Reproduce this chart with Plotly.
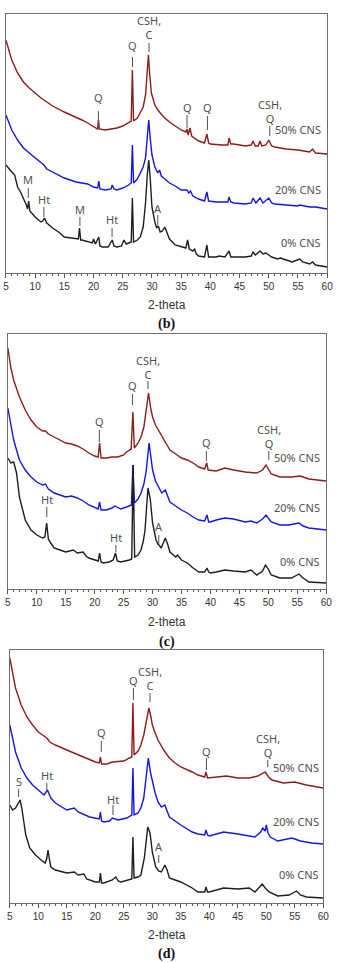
import plotly.graph_objects as go

# ---------------- DATA (2-theta, intensity in arbitrary units, as displayed) ----------------
# Panel (b)
b50_tt = [5,5.5,6,7,8,9,10,11,12,13,15,17,18,19,20,20.7,20.85,21,22,23,24,25,26,26.45,26.65,26.85,27.5,28,28.5,28.9,29.2,29.4,29.6,29.9,30.5,31,32,33,34,35,35.8,36,36.2,36.5,36.8,37.5,38,39,39.4,39.7,40,42,43,43.2,43.5,44,46,47,47.3,47.7,48.2,48.5,48.8,49.5,50,50.5,51,53,55,57,57.5,58,60]
b50_i = [233,222,213,200,191,185,180,175,171,167,161,156,153,150,146,144,153,144,143,144,145,147,150,152,203,152,155,160,166,178,200,218,200,180,168,163,156,151,147,143,141,144,138,145,137,134,132,130,139,130,129,128,128,135,129,129,127,128,132,127,127,132,127,128,133,127,126,124,123,121,124,120,119]

b20_tt = [5,5.5,6,7,8,9,10,11,11.5,12,13,15,17,19,20,20.7,20.9,21.1,22,23,23.2,23.5,24,25,26,26.45,26.65,26.85,27.5,28,28.5,28.9,29.2,29.45,29.7,30,30.5,31,31.3,31.6,32,33,34,35,36,36.3,36.6,37,38,39,39.4,39.7,41,43,43.2,43.5,44,46,47,47.3,47.8,48.5,49,50,50.5,51,53,55,55.3,57,58,60]
b20_i = [158,150,143,133,125,120,115,110,108,104,101,95,91,89,86,85,92,84,83,84,88,84,83,85,88,90,128,90,94,100,106,115,135,153,135,118,106,100,103,97,95,90,87,83,83,80,82,77,74,72,81,72,71,71,76,71,70,69,70,75,70,75,70,75,70,69,68,67,68,66,66,64]

b0_tt = [5,5.5,6,6.5,6.8,7,7.5,8,8.5,8.7,8.9,9.1,9.5,10,11,11.3,11.6,11.9,12,13,14,15,16,17,17.4,17.6,17.8,18,19,19.8,20,20.3,20.9,21.1,21.5,22.5,23.2,23.5,24,24.8,25.2,25.6,26,26.45,26.65,26.85,27.5,28,28.5,28.9,29.2,29.45,29.7,30,30.5,30.8,31.1,31.4,31.8,32.2,32.6,33,34,35,35.8,36.1,36.4,37,37.3,37.6,38,39,39.4,39.7,40,41,41.5,42.5,43.2,43.5,44,46,47,47.3,47.7,48.5,49,49.5,50,50.5,51.5,52,53,54,55.3,55.8,57,57.5,58,60]
b0_i = [108,104,101,98,92,86,81,75,68,64,72,62,59,56,51,52,55,51,50,45,41,36,35,34,34,45,33,33,31,30,34,29,36,27,26,26,33,27,26,27,33,29,30,31,75,31,33,36,46,70,98,113,95,66,51,45,47,41,42,46,40,34,28,26,25,33,24,22,24,19,17,16,28,16,16,16,17,16,22,16,16,16,17,21,18,22,19,20,18,16,14,15,13,11,14,11,9,11,8,6]

# Panel (c)
c50_tt = [5,5.5,6,7,8,9,10,11,11.5,12,13,15,16,17,18,19,20,20.6,20.85,21.1,22,23,24,25,25.5,26.3,26.6,26.85,27.5,28,28.5,28.9,29.3,29.7,30,30.5,31,32,33,34,35,36,37,38,39,39.35,39.6,41,42.5,44,46,48,49,49.6,50.2,50.5,52,54,55.5,57,60]
c50_i = [241,222,209,192,179,169,162,158,158,155,152,146,145,143,140,136,133,132,146,131,131,132,132,134,137,140,177,141,146,152,162,178,196,180,172,164,159,149,139,135,131,129,126,122,120,126,119,118,121,119,117,116,119,124,118,115,112,112,113,110,108]

c20_tt = [5,5.5,6,7,8,9,10,11,11.5,12,13,15,16,17,18,19,20,20.6,20.85,21.1,22,23,23.5,24.5,25.5,26.35,26.6,26.85,27.5,28,28.5,28.9,29.4,29.8,30,30.5,31,31.6,32.2,32.6,33,34,35,36,37,38,39,39.4,39.7,40,41,42.5,44,46,47,48,49,49.6,50.2,50.5,52,53.5,55.3,56,57,60]
c20_i = [181,163,149,129,119,112,107,104,105,100,96,92,93,91,88,84,81,80,87,79,79,81,83,80,82,84,124,86,90,96,105,118,146,128,119,108,102,96,99,93,87,83,79,76,72,69,68,74,67,67,69,71,70,67,68,66,70,74,70,67,64,64,66,63,61,59]

c0_tt = [5,5.5,6,6.5,7,7.5,8,9,10,11,11.4,11.7,12,12.4,13,14,15,16.3,17,18,18.5,19,20,20.6,20.85,21.1,21.5,22.5,23.2,23.6,23.9,24.5,26,26.4,26.65,26.9,27.5,28,28.4,28.7,29.2,29.6,30,30.6,30.9,31.1,31.5,32.2,32.6,33,34,34.3,35,36,37,38,39,39.4,39.7,40,41,42.5,44,46,47,48,49,49.5,50,50.5,52,54,55.3,56,57,60]
c0_i = [131,126,127,116,92,79,69,59,54,51,52,66,50,46,41,39,37,39,36,37,33,31,29,28,36,27,26,27,29,36,28,27,29,30,124,32,34,39,48,59,101,90,66,49,45,44,41,51,45,37,32,34,29,26,21,17,17,21,17,16,17,19,18,17,19,14,18,24,20,14,11,11,15,11,7,6]

# Panel (d)
d50_tt = [5,5.5,6,7,8,9,10,11,11.5,12,13,15,17,19,20,20.7,20.9,21.1,22,23,25,26,26.4,26.6,26.8,27.5,28,28.5,28.8,29.4,29.8,30,30.5,31,32,33,34,35,37,38,39.2,39.4,39.7,41,43,45,47,48.5,49.8,50.4,51,53,55,57,60]
d50_i = [245,229,215,198,186,178,171,167,165,161,158,153,148,143,141,140,146,139,139,141,142,145,146,200,148,152,158,168,178,195,185,178,170,163,153,145,140,136,131,128,126,131,125,126,127,125,125,127,131,126,123,120,121,118,115]

d20_tt = [5,5.5,6,7,8,9,10,11,11.6,12.2,13,15,16.3,17,19,20,20.7,20.9,21.1,21.5,22.5,23,24,25.5,26.4,26.6,26.8,27.5,28,28.5,28.8,29.3,29.7,30,30.5,31,31.6,32.2,32.6,33,35,37,38,39.2,39.4,39.7,40,42.5,45,47,48,49,49.4,49.8,50,50.3,50.7,52,54.5,56,58,60]
d20_i = [178,163,151,135,125,118,113,108,113,105,100,93,95,91,86,85,84,91,82,81,82,85,83,85,88,135,88,90,95,105,118,145,130,121,110,101,96,98,92,86,78,71,69,68,73,68,67,71,69,67,66,71,75,72,78,70,66,62,65,62,60,59]

d0_tt = [5,5.5,6,6.5,6.8,7.1,7.3,7.8,8.5,9.5,10.5,11.2,11.5,11.7,12,12.2,13,15,16.3,17,18,18.5,20,20.7,20.9,21.1,21.5,23,23.6,24,24.5,26,26.4,26.6,26.8,27.5,28,28.6,29.2,29.6,30,30.6,31.1,31.6,32.2,32.6,33,34,35,37,38,39.2,39.4,39.7,40,42.5,45,47,48,49.3,49.8,50.5,52,54,55.3,56,57,60]
d0_i = [98,93,95,100,103,95,88,68,55,48,43,40,45,53,42,36,33,30,31,28,29,24,21,21,30,20,20,23,26,22,21,23,24,66,25,26,28,45,76,70,51,36,32,31,38,33,25,23,21,15,11,11,16,11,11,15,14,15,11,19,15,11,7,8,12,8,6,5]

series_labels = ["50% CNS", "20% CNS", "0% CNS"]
series_colors = ["#8e1b1b", "#1414e6", "#1e1e1e"]
tick_vals = [5, 10, 15, 20, 25, 30, 35, 40, 45, 50, 55, 60]
panel_names = ["(b)", "(c)", "(d)"]
x_title = "2-theta"

# Phase labels: (text, 2-theta, label y, tick top, tick bottom)
b_labels = [("CSH,<br>C", 29.5, 246, 230, 221), ("Q", 26.67, 228, 216, 206), ("Q", 20.83, 176, 162, 146),
            ("Q", 36.0, 166, 158, 145), ("Q", 39.5, 166, 157, 143), ("CSH,<br>Q", 50.17, 162, 147, 137),
            ("M", 8.83, 94, 85, 75), ("Ht", 11.5, 74, 66, 56), ("M", 17.67, 64, 56, 47),
            ("Ht", 23.17, 54, 45, 36), ("A", 31.0, 65, 58, 48)]
c_labels = [("CSH,<br>C", 29.2, 222, 208, 200), ("Q", 26.53, 204, 195, 184), ("Q", 20.8, 168, 159, 147),
            ("Q", 39.3, 147, 138, 128), ("CSH,<br>Q", 50.08, 153, 138, 129),
            ("Ht", 11.73, 90, 82, 72), ("Ht", 23.67, 52, 44, 37), ("A", 31.07, 63, 54, 45)]
d_labels = [("Q", 26.69, 223, 215, 203), ("CSH,<br>C", 29.6, 225, 210, 201), ("Q", 21.05, 171, 162, 151),
            ("Q", 39.5, 152, 145, 133), ("CSH,<br>Q", 50.26, 158, 143, 136),
            ("S", 6.54, 122, 114, 106), ("Ht", 11.49, 128, 120, 111), ("Ht", 23.1, 104, 98, 88),
            ("A", 31.13, 57, 48, 40)]
series_label_y = [[144, 84, 31], [132, 82, 28], [136, 82, 29]]

# ---------------- LAYOUT GEOMETRY (pixels) ----------------
W, H = 340, 963
panels = [
    dict(left=3, right=333, top=14, bottom=273, title_y=305, name_y=324,
         data=[(b50_tt, b50_i), (b20_tt, b20_i), (b0_tt, b0_i)], labels=b_labels, lab_x=59.3),
    dict(left=5, right=332, top=334, bottom=589, title_y=622, name_y=642,
         data=[(c50_tt, c50_i), (c20_tt, c20_i), (c0_tt, c0_i)], labels=c_labels, lab_x=59.3),
    dict(left=7, right=329, top=650, bottom=903, title_y=935, name_y=954,
         data=[(d50_tt, d50_i), (d20_tt, d20_i), (d0_tt, d0_i)], labels=d_labels, lab_x=59.6),
]

fig = go.Figure()
annotations = []
shapes = []
label_font = dict(family="Noto Sans", size=11, color="#505050")

for k, p in enumerate(panels):
    sfx = "" if k == 0 else str(k + 1)
    xa, ya = "x" + sfx, "y" + sfx
    for (tt, inten), col in zip(p["data"], series_colors):
        fig.add_trace(go.Scatter(x=tt, y=inten, mode="lines", xaxis=xa, yaxis=ya,
                                 line=dict(color=col, width=1.4), showlegend=False,
                                 hoverinfo="skip"))
    h = p["bottom"] - p["top"]
    fig.layout["xaxis" + sfx] = dict(
        domain=[p["left"] / W, p["right"] / W], anchor=ya, range=[5, 60],
        tickvals=tick_vals, ticks="outside", ticklen=4, tickwidth=1, tickcolor="#555",
        minor=dict(dtick=1, ticks="outside", ticklen=2, tickcolor="#555", tickwidth=1),
        showline=True, linecolor="#6e6e6e", linewidth=1, mirror=True,
        showgrid=False, zeroline=False,
        tickfont=dict(family="Liberation Sans", size=10, color="#333"))
    fig.layout["yaxis" + sfx] = dict(
        domain=[(H - p["bottom"]) / H, (H - p["top"]) / H], anchor=xa, range=[0, h],
        showticklabels=False, ticks="", showline=True, linecolor="#6e6e6e", linewidth=1,
        mirror=True, showgrid=False, zeroline=False)
    for (txt, xx, yy, t0, t1) in p["labels"]:
        annotations.append(dict(text=txt, x=xx, y=yy, xref=xa, yref=ya, showarrow=False,
                                font=label_font, xanchor="center", yanchor="middle"))
        shapes.append(dict(type="line", xref=xa, yref=ya, x0=xx, x1=xx, y0=t0, y1=t1,
                           line=dict(color="#505050", width=1)))
    for s_lab, s_y in zip(series_labels, series_label_y[k]):
        annotations.append(dict(text=s_lab, x=p["lab_x"], y=s_y, xref=xa, yref=ya,
                                showarrow=False, font=label_font, xanchor="right",
                                yanchor="middle"))
    cx = ((p["left"] + p["right"]) / 2) / W
    annotations.append(dict(text=x_title, x=cx, y=(H - p["title_y"]) / H, xref="paper",
                            yref="paper", showarrow=False, xanchor="center", yanchor="middle",
                            font=dict(family="Liberation Sans", size=12, color="#333")))
    annotations.append(dict(text="<b>" + panel_names[k] + "</b>", x=cx,
                            y=(H - p["name_y"]) / H, xref="paper", yref="paper",
                            showarrow=False, xanchor="center", yanchor="middle",
                            font=dict(family="Liberation Serif", size=14, color="#111")))

fig.update_layout(width=W, height=H, margin=dict(l=0, r=0, t=0, b=0),
                  paper_bgcolor="white", plot_bgcolor="white",
                  annotations=annotations, shapes=shapes)

fig.write_html("out.html")
